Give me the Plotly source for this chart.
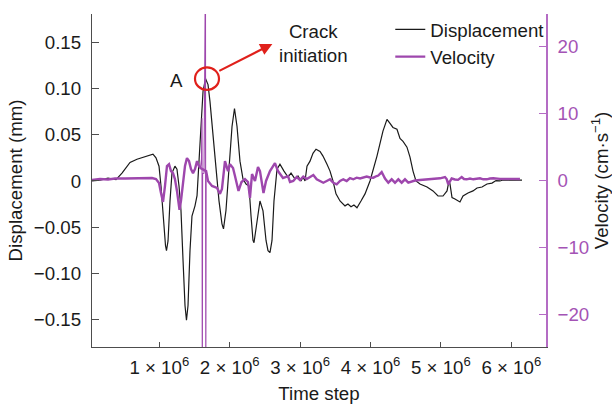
import plotly.graph_objects as go

# ---------------- data (time in units of 1e6 steps) ----------------
disp_time_m = [0.044, 0.158, 0.271, 0.328, 0.385, 0.470, 0.584, 0.683, 0.797, 0.868,
               0.910, 0.953, 0.996, 1.024, 1.053, 1.088, 1.102, 1.124, 1.152, 1.180,
               1.222, 1.251, 1.280, 1.308, 1.337, 1.365, 1.386, 1.408, 1.436, 1.464,
               1.507, 1.536, 1.564, 1.592, 1.621, 1.656, 1.692, 1.720, 1.763, 1.805,
               1.848, 1.890, 1.912, 1.947, 1.990, 2.033, 2.068, 2.104, 2.146, 2.189,
               2.232, 2.274, 2.303, 2.331, 2.345, 2.388, 2.430, 2.473, 2.516, 2.544,
               2.572, 2.601, 2.629, 2.672, 2.714, 2.771, 2.828, 2.871, 2.928, 2.970,
               3.013, 3.041, 3.070, 3.098, 3.141, 3.183, 3.226, 3.283, 3.325, 3.382,
               3.425, 3.467, 3.510, 3.567, 3.638, 3.680, 3.723, 3.765, 3.808, 3.865,
               3.922, 3.993, 4.092, 4.177, 4.234, 4.277, 4.319, 4.376, 4.419, 4.462,
               4.518, 4.561, 4.604, 4.646, 4.703, 4.803, 4.888, 4.959, 5.030, 5.087,
               5.101, 5.115, 5.129, 5.158, 5.200, 5.243, 5.271, 5.314, 5.385, 5.456,
               5.513, 5.584, 5.655, 5.726, 5.783, 5.839, 5.882, 6.152]
displacement = [0.000, 0.001, 0.003, 0.002, 0.0015, 0.0085, 0.020, 0.0236, 0.026, 0.028,
                0.029, 0.025, 0.016, -0.0055, -0.038, -0.070, -0.0756, -0.065, -0.0217, 0.0085,
                0.016, 0.0128, -0.0055, -0.032, -0.086, -0.135, -0.151, -0.135, -0.0756, -0.038,
                -0.027, -0.016, 0.0215, 0.0645, 0.097, 0.111, 0.1045, 0.086, 0.048, 0.016,
                -0.0216, -0.0465, -0.052, -0.032, 0.0107, 0.059, 0.0786, 0.059, 0.0215, 0.002,
                -0.0033, -0.0055, -0.038, -0.0645, -0.067, -0.043, -0.0217, -0.0324, -0.0645, -0.0756,
                -0.0777, -0.0645, -0.0217, 0.0128, 0.0182, 0.0107, 0.0042, 0.0085, 0.002, 0.0053,
                0.000, 0.0042, 0.000, 0.016, 0.0215, 0.030, 0.0344, 0.032, 0.027, 0.018,
                0.0107, 0.000, -0.014, -0.0217, -0.027, -0.025, -0.028, -0.026, -0.029, -0.0217,
                -0.014, 0.000, 0.027, 0.054, 0.0667, 0.0624, 0.058, 0.056, 0.046, 0.043,
                0.0366, 0.0258, 0.0107, 0.000, -0.0033, -0.0066, -0.0108, -0.0163, -0.0163, -0.0108,
                -0.0033, 0.000, -0.0033, -0.018, -0.0195, -0.0217, -0.0227, -0.0163, -0.013, -0.0108,
                -0.0076, -0.0066, -0.0033, -0.0023, 0.0004, 0.000, 0.001, 0.001]

vel_time_m = [0.044, 0.158, 0.271, 0.371, 0.513, 0.655, 0.797, 0.896, 0.953, 0.996,
              1.024, 1.053, 1.081, 1.109, 1.138, 1.166, 1.195, 1.222, 1.251, 1.287,
              1.308, 1.337, 1.365, 1.393, 1.422, 1.450, 1.479, 1.507, 1.536, 1.564,
              1.585, 1.665, 1.692, 1.749, 1.820, 1.862, 1.890, 1.933, 1.976, 2.004,
              2.047, 2.075, 2.125, 2.168, 2.217, 2.260, 2.288, 2.317, 2.359, 2.402,
              2.430, 2.480, 2.516, 2.572, 2.643, 2.686, 2.757, 2.828, 2.857, 2.903,
              2.952, 2.999, 3.045, 3.094, 3.165, 3.188, 3.236, 3.283, 3.330, 3.378,
              3.425, 3.472, 3.520, 3.567, 3.614, 3.662, 3.709, 3.756, 3.804, 3.851,
              3.898, 3.946, 3.993, 4.040, 4.088, 4.111, 4.159, 4.206, 4.253, 4.301,
              4.348, 4.395, 4.443, 4.490, 4.537, 4.585, 4.632, 4.703, 4.798, 4.892,
              4.987, 5.058, 5.082, 5.105, 5.129, 5.153, 5.200, 5.243, 5.295, 5.328,
              5.366, 5.413, 5.460, 5.513, 5.555, 5.602, 5.651, 5.697, 5.744, 5.839,
              5.981, 6.123]
velocity = [0.07, 0.22, 0.15, 0.3, 0.3, 0.3, 0.3, 0.37, 0.22, -0.37,
            -1.86, -3.2, -0.8, 2.16, 2.45, 1.41, 1.1, 0.22, -1.56, -4.4,
            -3.05, -0.07, 2.16, 3.35, 2.9, 1.71, 1.1, 1.71, 2.9, 2.16,
            1.86, 1.4, -0.07, -0.82, -1.1, -2.0, -1.26, 2.9, 1.41, 2.45,
            1.86, 0.67, -1.56, -0.22, 0.22, -0.22, -2.6, 0.97, -0.07, 2.0,
            1.41, -1.86, -0.07, 1.41, 2.6, 1.41, 0.37, 0.67, -0.22, -0.07,
            0.52, 0.07, 0.6, 0.22, 0.67, 0.82, 0.18, -0.07, -0.33, -0.07,
            0.18, -0.33, -0.57, -0.07, 0.18, -0.07, 0.37, 0.18, 0.42, 0.3,
            0.42, 0.6, 0.45, 0.42, 0.67, 0.74, 1.26, 0.3, -0.33, 0.18,
            -0.33, 0.18, -0.33, 0.18, -0.33, -0.15, 0.0, 0.07, 0.15, 0.22,
            0.33, 0.52, 0.22, -0.57, -0.07, 0.3, 0.15, 0.1, 0.52, 0.22,
            0.18, 0.3, 0.18, 0.3, 0.33, 0.18, 0.18, 0.3, 0.33, 0.25,
            0.22, 0.22]

# velocity spike at crack initiation (goes off scale)
spike_time_m = [1.585, 1.599, 1.6065, 1.6108, 1.615, 1.635, 1.6555, 1.6605, 1.665]
spike_velocity = [1.86, 3.2, 9.3, -32.0, 1.0, 1.1, 32.0, -32.0, 1.4]

x_tick_vals_m = [1, 2, 3, 4, 5, 6]
x_tick_text = ["%d × 10<sup>6</sup>" % v for v in x_tick_vals_m]
disp_tick_vals = [0.15, 0.10, 0.05, 0.0, -0.05, -0.10, -0.15]
disp_tick_text = ["0.15", "0.10", "0.05", "0", "−0.05", "−0.10", "−0.15"]
vel_tick_vals = [20, 10, 0, -10, -20]
vel_tick_text = ["20", "10", "0", "−10", "−20"]

# ---------------- styling ----------------
FONT = "Liberation Sans, Arial, sans-serif"
FS = 18.7
BLACK = "#1a1a1a"
AXIS = "#4d4d4d"
PURPLE = "#9E47AD"
PURPLE_AXIS = "#B46CC4"
RED = "#E0201B"

M = 1e6
fig = go.Figure()
fig.add_trace(go.Scatter(
    x=[v * M for v in disp_time_m], y=displacement, mode="lines",
    name="Displacement", line=dict(color=BLACK, width=1.2), yaxis="y"))
fig.add_trace(go.Scatter(
    x=[v * M for v in vel_time_m], y=velocity, mode="lines",
    name="Velocity", line=dict(color=PURPLE, width=2.4), yaxis="y2"))
fig.add_trace(go.Scatter(
    x=[v * M for v in spike_time_m], y=spike_velocity, mode="lines",
    name="Velocity spike", showlegend=False,
    line=dict(color=PURPLE, width=1.1), yaxis="y2"))

fig.update_layout(
    width=612, height=404,
    margin=dict(l=92, r=66, t=13, b=57),
    paper_bgcolor="white", plot_bgcolor="white",
    font=dict(family=FONT, size=FS, color=BLACK),
    showlegend=True,
    legend=dict(x=0.657, y=1.007, xanchor="left", yanchor="top",
                bgcolor="rgba(0,0,0,0)", font=dict(size=FS),
                itemwidth=30, tracegroupgap=0),
    xaxis=dict(range=[0.044 * M, 6.493 * M], showgrid=False, zeroline=False,
               automargin=False,
               showline=True, linecolor=AXIS, linewidth=1.2,
               ticks="inside", ticklen=5, tickcolor=AXIS, tickwidth=1.2,
               tickvals=[v * M for v in x_tick_vals_m], ticktext=x_tick_text,
               tickfont=dict(size=FS, color=BLACK), ticklabelstandoff=3,
               title=dict(text="Time step", font=dict(size=FS), standoff=11)),
    yaxis=dict(range=[-0.180, 0.181], showgrid=False, zeroline=False,
               automargin=False,
               showline=True, linecolor=AXIS, linewidth=1.2,
               ticks="inside", ticklen=7, tickcolor=AXIS, tickwidth=1.2,
               tickvals=disp_tick_vals, ticktext=disp_tick_text,
               tickfont=dict(size=FS, color=BLACK), ticklabelstandoff=6,
               title=dict(text="Displacement (mm)", font=dict(size=FS), standoff=6)),
    yaxis2=dict(range=[-24.9, 24.9], overlaying="y", side="right",
                showgrid=False, zeroline=False, automargin=False,
                showline=True, linecolor=PURPLE_AXIS, linewidth=1.5,
                ticks="inside", ticklen=7, tickcolor=PURPLE_AXIS, tickwidth=1.2,
                tickvals=vel_tick_vals, ticktext=vel_tick_text,
                tickfont=dict(size=FS, color="#A453B5"), ticklabelstandoff=6,
                title=dict(text="Velocity (cm·s<sup>−1</sup>)", font=dict(size=FS),
                           standoff=4)),
)

# annotations: point A, crack initiation label, circle and arrow
fig.add_annotation(x=1.247 * M, y=0.1088, xref="x", yref="y", text="A",
                   showarrow=False, font=dict(size=FS, color=BLACK))
fig.add_annotation(x=3.197 * M, y=0.1486, xref="x", yref="y",
                   text="Crack<br>initiation", showarrow=False, align="center",
                   font=dict(size=FS, color=BLACK))
fig.add_shape(type="circle", xref="x", yref="y",
              x0=1.507 * M, x1=1.848 * M, y0=0.0987, y1=0.1231,
              line=dict(color=RED, width=2.2))
fig.add_annotation(x=2.606 * M, y=0.1486, xref="x", yref="y",
                   ax=1.831 * M, ay=0.1185, axref="x", ayref="y",
                   text="", showarrow=True, arrowhead=2, arrowsize=1.1,
                   arrowwidth=2.2, arrowcolor=RED)

fig.write_html("out.html")
